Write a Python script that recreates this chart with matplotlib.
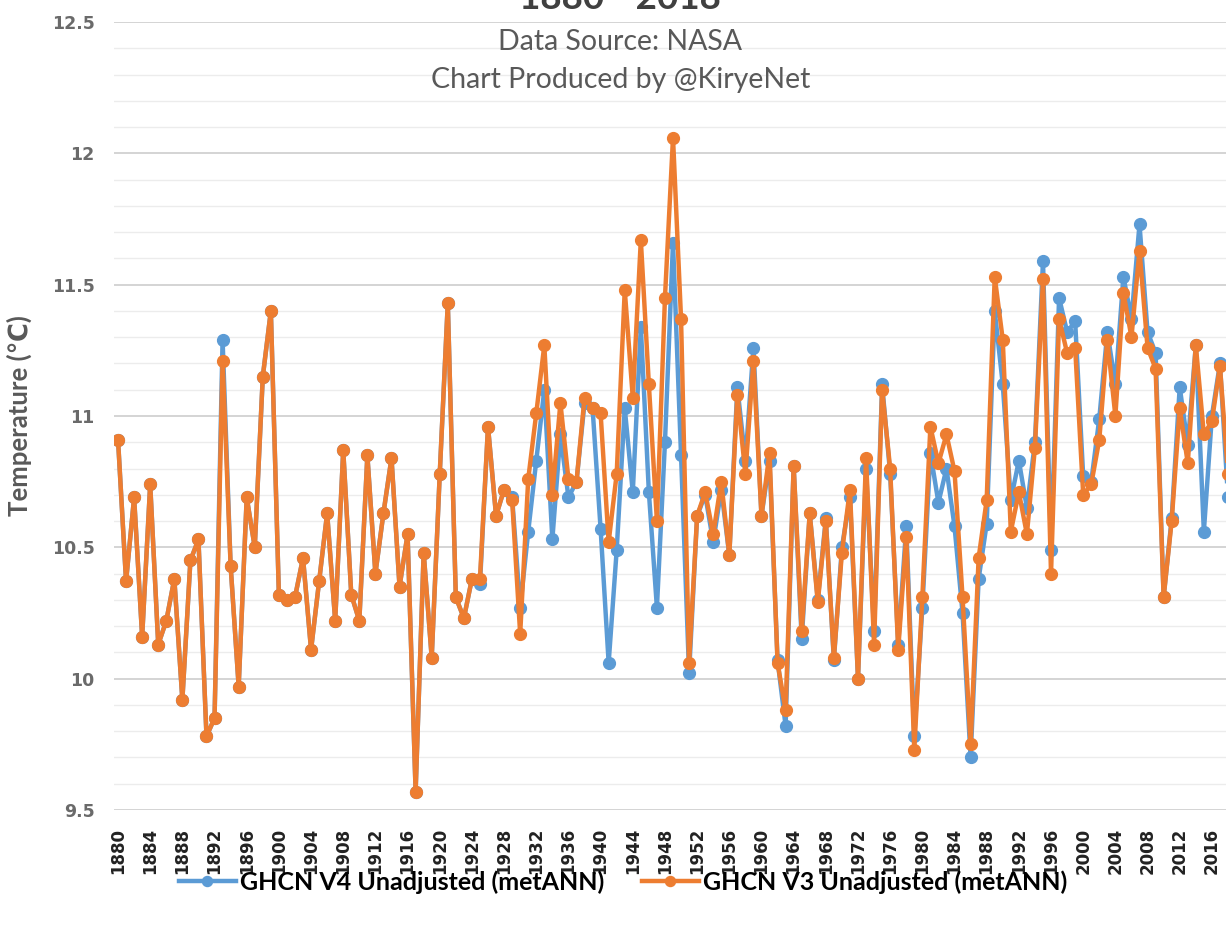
import matplotlib
matplotlib.use("Agg")
import matplotlib.pyplot as plt
import numpy as np

years = list(range(1880, 2019))

# GHCN V3 unadjusted (orange)
v3 = [10.91, 10.37, 10.69, 10.16, 10.74, 10.13, 10.22, 10.38, 9.92, 10.45,
      10.53, 9.78, 9.85, 11.21, 10.43, 9.97, 10.69, 10.50, 11.15, 11.40,
      10.32, 10.30, 10.31, 10.46, 10.11, 10.37, 10.63, 10.22, 10.87, 10.32,
      10.22, 10.85, 10.40, 10.63, 10.84, 10.35, 10.55, 9.57, 10.48, 10.08,
      10.78, 11.43, 10.31, 10.23, 10.38, 10.38, 10.96, 10.62, 10.72, 10.68,
      10.17, 10.76, 11.01, 11.27, 10.70, 11.05, 10.76, 10.75, 11.07, 11.03,
      11.01, 10.52, 10.78, 11.48, 11.07, 11.67, 11.12, 10.60, 11.45, 12.06,
      11.37, 10.06, 10.62, 10.71, 10.55, 10.75, 10.47, 11.08, 10.78, 11.21,
      10.62, 10.86, 10.06, 9.88, 10.81, 10.18, 10.63, 10.29, 10.60, 10.08,
      10.48, 10.72, 10.00, 10.84, 10.13, 11.10, 10.80, 10.11, 10.54, 9.73,
      10.31, 10.96, 10.82, 10.93, 10.79, 10.31, 9.75, 10.46, 10.68, 11.53,
      11.29, 10.56, 10.71, 10.55, 10.88, 11.52, 10.40, 11.37, 11.24, 11.26,
      10.70, 10.74, 10.91, 11.29, 11.00, 11.47, 11.30, 11.63, 11.26, 11.18,
      10.31, 10.60, 11.03, 10.82, 11.27, 10.93, 10.98, 11.19, 10.78]

# GHCN V4 unadjusted (blue)
v4 = [10.91, 10.37, 10.69, 10.16, 10.74, 10.13, 10.22, 10.38, 9.92, 10.45,
      10.53, 9.78, 9.85, 11.29, 10.43, 9.97, 10.69, 10.50, 11.15, 11.40,
      10.32, 10.30, 10.31, 10.46, 10.11, 10.37, 10.63, 10.22, 10.87, 10.32,
      10.22, 10.85, 10.40, 10.63, 10.84, 10.35, 10.55, 9.57, 10.48, 10.08,
      10.78, 11.43, 10.31, 10.23, 10.38, 10.36, 10.96, 10.62, 10.72, 10.69,
      10.27, 10.56, 10.83, 11.10, 10.53, 10.93, 10.69, 10.75, 11.05, 11.03,
      10.57, 10.06, 10.49, 11.03, 10.71, 11.34, 10.71, 10.27, 10.90, 11.66,
      10.85, 10.02, 10.62, 10.70, 10.52, 10.72, 10.47, 11.11, 10.83, 11.26,
      10.62, 10.83, 10.07, 9.82, 10.81, 10.15, 10.63, 10.30, 10.61, 10.07,
      10.50, 10.69, 10.00, 10.80, 10.18, 11.12, 10.78, 10.13, 10.58, 9.78,
      10.27, 10.86, 10.67, 10.80, 10.58, 10.25, 9.70, 10.38, 10.59, 11.40,
      11.12, 10.68, 10.83, 10.65, 10.90, 11.59, 10.49, 11.45, 11.32, 11.36,
      10.77, 10.75, 10.99, 11.32, 11.12, 11.53, 11.37, 11.73, 11.32, 11.24,
      10.31, 10.61, 11.11, 10.89, 11.27, 10.56, 11.00, 11.20, 10.69]

yticks = [9.5, 10, 10.5, 11, 11.5, 12, 12.5]
ytick_labels = ["9.5", "10", "10.5", "11", "11.5", "12", "12.5"]
xticks = list(range(1880, 2017, 4))

blue = "#5B9BD5"
orange = "#ED7D31"
grey = "#595959"
fam = ["Lato", "DejaVu Sans"]

fig = plt.figure(figsize=(12.26, 9.25), dpi=100)
ax = fig.add_axes([114 / 1226, 1 - 810 / 925, 1118 / 1226, 788 / 925])

ax.plot(years, v4, color=blue, lw=3.2, marker="o", ms=8.5,
        label="GHCN V4 Unadjusted (metANN)", zorder=3)
ax.plot(years, v3, color=orange, lw=3.2, marker="o", ms=8.5,
        label="GHCN V3 Unadjusted (metANN)", zorder=4)

ax.set_xlim(1879.5, 2018.5)
ax.set_ylim(9.5, 12.5)
ax.set_yticks(yticks)
ax.set_yticklabels(ytick_labels, family="DejaVu Sans", fontsize=12.5,
                   fontweight="bold", color="#6a6a6a")
ax.set_yticks(np.arange(9.5, 12.5, 0.1), minor=True)
ax.set_xticks(xticks)
ax.set_xticklabels([])
ax.tick_params(axis="both", which="both", length=0)
ax.tick_params(axis="y", pad=14)

# rotated year labels under the axis
for yr in xticks:
    ax.text(yr, -0.023, str(yr), transform=ax.get_xaxis_transform(),
            rotation=90, ha="center", va="top", fontsize=12,
            fontweight="bold", family="DejaVu Sans", color="#222222")

ax.grid(axis="y", which="major", color="#d4d4d4", lw=1.4)
ax.grid(axis="y", which="minor", color="#ececec", lw=1.0)
ax.set_axisbelow(True)
for s in ax.spines.values():
    s.set_visible(False)

ax.set_ylabel("Temperature (\u2103)", family=fam, fontsize=18.5,
              fontweight="bold", color=grey, labelpad=14)

fig.text(0.506, 1 - 9 / 925, "1880 - 2018", ha="center", va="baseline",
         family=fam, fontsize=26.5, fontweight="bold", color="#404040")
fig.text(0.506, 1 - 42 / 925, "Data Source: NASA", ha="center", va="center",
         family=fam, fontsize=20.5, color=grey)
fig.text(0.506, 1 - 80 / 925, "Chart Produced by @KiryeNet", ha="center",
         va="center", family=fam, fontsize=20.5, color=grey)

fig.legend(loc="center", bbox_to_anchor=(0.508, 1 - 882 / 925), ncol=2,
           frameon=False, prop={"family": fam, "size": 18, "weight": "bold"},
           handlelength=2.3, columnspacing=1.5, handletextpad=0.15,
           markerscale=0.85)

fig.savefig("out.png", dpi=100, facecolor="white")
